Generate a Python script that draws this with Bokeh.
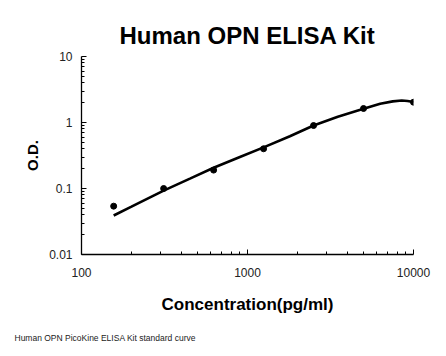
from bokeh.plotting import figure
from bokeh.models import Range1d, FixedTicker, CustomJSTickFormatter, Title
from bokeh.embed import file_html
from bokeh.resources import INLINE

# Standard points
conc = [156.25, 312.5, 625, 1250, 2500, 5000, 10000]
od = [0.054, 0.100, 0.190, 0.400, 0.900, 1.630, 2.030]

# Fitted standard curve
curve_x = [156.25, 200, 312.5, 450, 625, 900, 1250, 1800, 2500, 3500, 5000, 6300, 7500, 8500, 9200, 10000]
curve_y = [0.039, 0.053, 0.093, 0.141, 0.206, 0.300, 0.420, 0.620, 0.900, 1.220, 1.610, 1.920, 2.090, 2.150, 2.120, 2.040]

x_major = [100, 1000, 10000]
x_minor = [200, 300, 400, 500, 600, 700, 800, 900, 2000, 3000, 4000, 5000, 6000, 7000, 8000, 9000]
y_major = [0.01, 0.1, 1, 10]
y_minor = [0.02, 0.03, 0.04, 0.05, 0.06, 0.07, 0.08, 0.09,
           0.2, 0.3, 0.4, 0.5, 0.6, 0.7, 0.8, 0.9,
           2, 3, 4, 5, 6, 7, 8, 9]

FONT = "Liberation Sans"

p = figure(width=438, height=348, x_axis_type="log", y_axis_type="log",
           x_range=Range1d(100, 10000), y_range=Range1d(0.01, 10),
           output_backend="svg", toolbar_location=None,
           min_border_left=81, min_border_right=25, min_border_top=56, min_border_bottom=94)
p.frame_width = 332
p.frame_height = 198

p.outline_line_color = None
p.xgrid.visible = False
p.ygrid.visible = False
p.background_fill_color = "white"
p.border_fill_color = "white"

p.title.text = "Human OPN ELISA Kit"
p.title.text_font = FONT
p.title.text_font_size = "24px"
p.title.text_font_style = "bold"
p.title.align = "center"
p.title.offset = 10
p.title.text_color = "black"
p.title.standoff = 16

fmt = CustomJSTickFormatter(code="return tick.toString();")

for ax in (p.xaxis[0], p.yaxis[0]):
    ax.formatter = fmt
    ax.axis_line_color = "black"
    ax.axis_line_width = 1.3
    ax.major_tick_line_color = "black"
    ax.minor_tick_line_color = "black"
    ax.major_tick_in = 5
    ax.major_tick_out = 0
    ax.minor_tick_in = 3
    ax.minor_tick_out = 0
    ax.major_label_text_font = FONT
    ax.major_label_text_font_size = "12px"
    ax.major_label_text_color = "#222222"
    ax.axis_label_text_font = FONT
    ax.axis_label_text_font_style = "bold"
    ax.axis_label_text_color = "black"

p.xaxis[0].ticker = FixedTicker(ticks=x_major, minor_ticks=x_minor)
p.yaxis[0].ticker = FixedTicker(ticks=y_major, minor_ticks=y_minor)

p.xaxis[0].axis_label = "Concentration(pg/ml)"
p.xaxis[0].axis_label_text_font_size = "17px"
p.xaxis[0].major_label_standoff = 13
p.xaxis[0].axis_label_standoff = 15

p.yaxis[0].axis_label = "O.D."
p.yaxis[0].axis_label_text_font_size = "15px"
p.yaxis[0].major_label_standoff = 9
p.yaxis[0].axis_label_standoff = 5

p.line(curve_x, curve_y, line_color="black", line_width=2.6)
p.scatter(conc, od, size=6, fill_color="black", line_color="black")

foot = Title(text="Human OPN PicoKine ELISA Kit standard curve", text_font=FONT,
             text_font_size="8.5px", text_font_style="normal", align="left",
             text_color="#222222", offset=-67, standoff=28)
p.add_layout(foot, "below")

open("out.html", "w").write(file_html(p, INLINE))
